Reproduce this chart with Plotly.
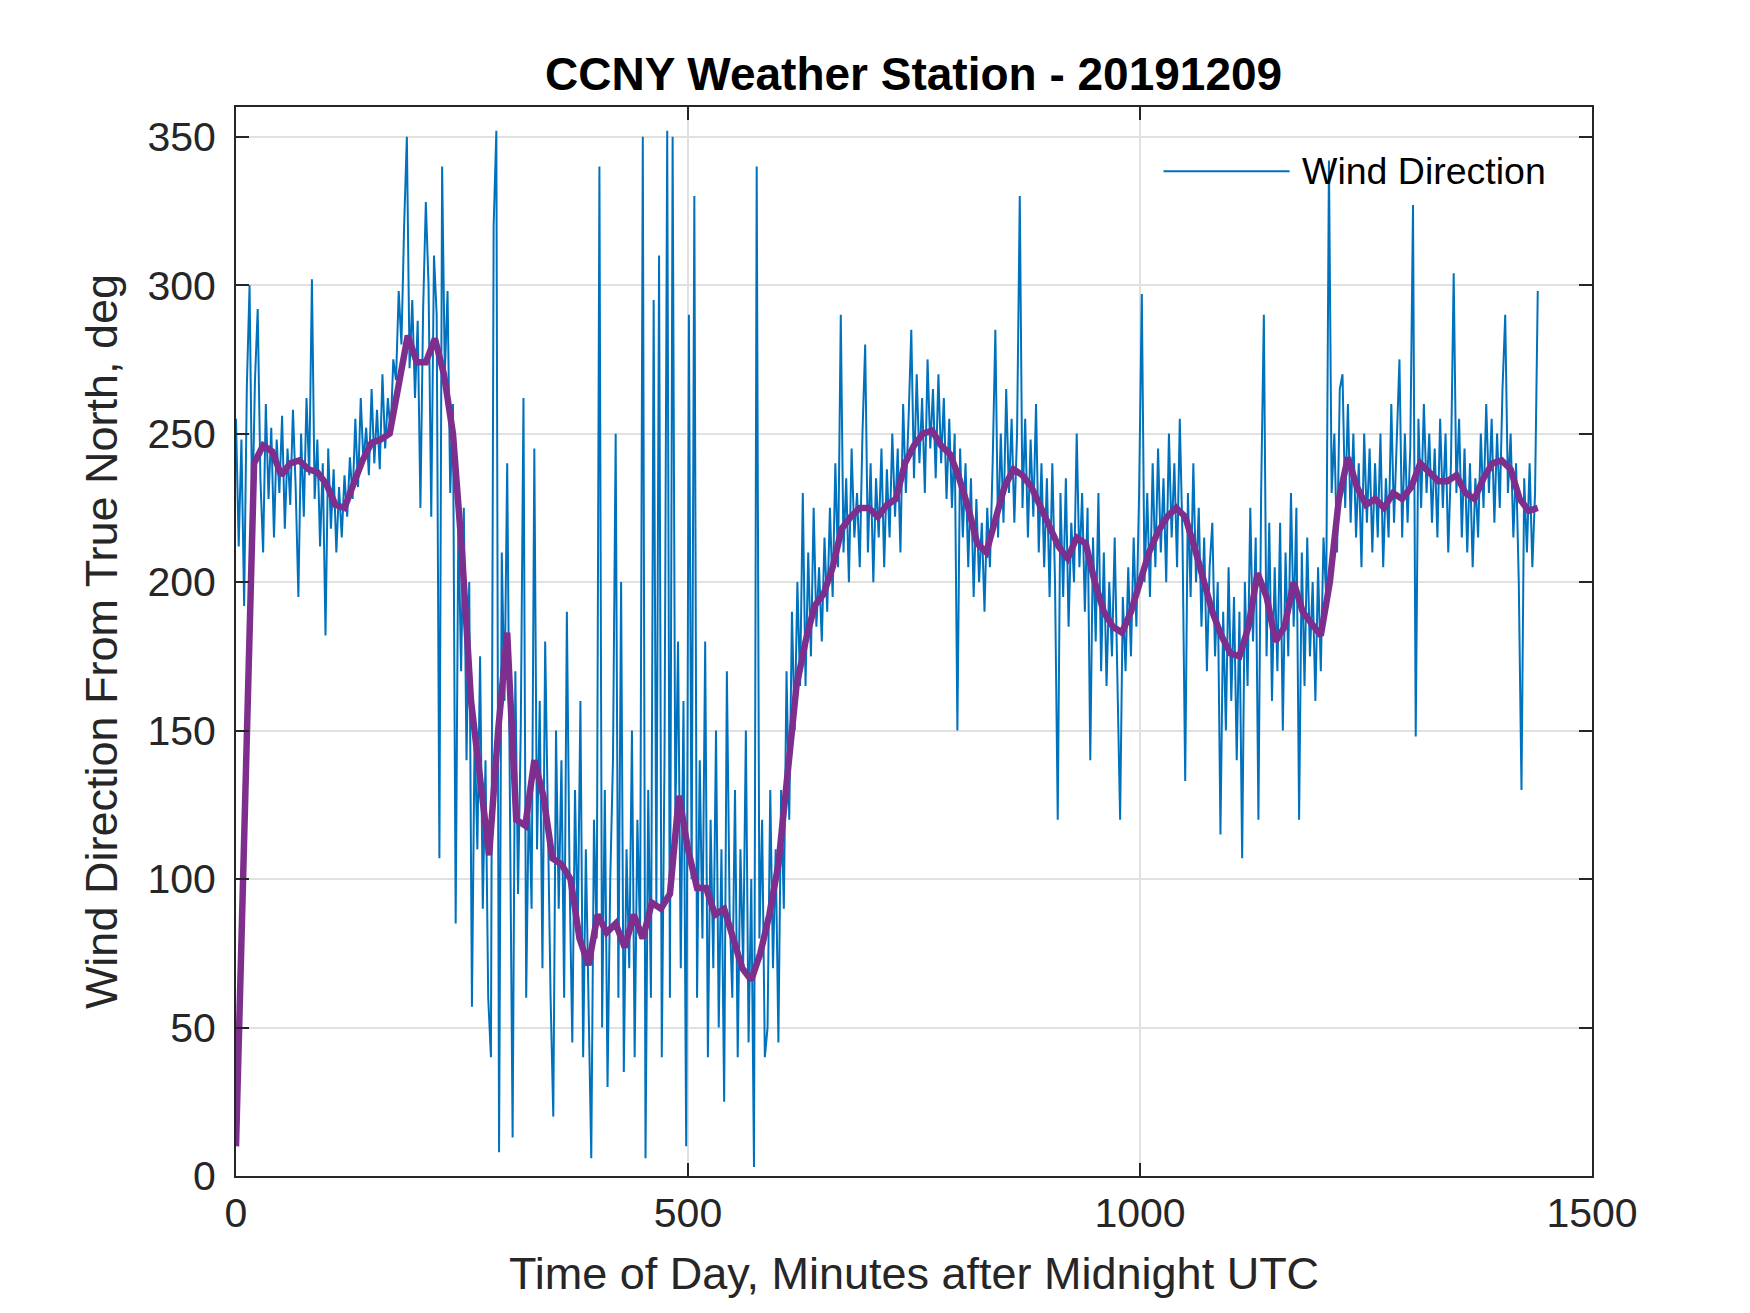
"""CCNY weather station wind direction, 2019-12-09."""

import plotly.graph_objects as go

# minutes after midnight for the raw samples (every 3 minutes)
minutes = list(range(0, 1441, 3))

wind_dir = [
    255, 212, 248, 192, 266, 300, 222, 268, 292, 235,
    210, 260, 228, 252, 215, 248, 230, 256, 218, 245,
    226, 258, 232, 195, 250, 222, 262, 236, 302, 228,
    248, 212, 240, 182, 245, 218, 238, 210, 232, 215,
    236, 222, 242, 228, 255, 232, 262, 240, 252, 236,
    265, 240, 258, 238, 270, 245, 262, 250, 275, 268,
    298, 280, 320, 350, 272, 295, 262, 288, 225, 292,
    328, 300, 222, 310, 290, 107, 340, 270, 298, 230,
    260, 85, 222, 170, 225, 140, 200, 57, 150, 110,
    175, 90, 140, 60, 40, 320, 352, 8, 210, 160,
    240, 130, 13, 170, 95, 150, 262, 60, 130, 90,
    245, 110, 160, 70, 180, 120, 60, 20, 150, 90,
    140, 60, 190, 100, 45, 130, 80, 160, 40, 110,
    60, 6, 120, 80, 340, 50, 130, 30, 100, 140,
    250, 60, 200, 35, 110, 70, 150, 40, 120, 80,
    350, 6, 130, 60, 295, 90, 310, 40, 140, 352,
    60, 350, 120, 180, 70, 160, 10, 290, 100, 330,
    60, 140, 80, 180, 40, 120, 70, 150, 50, 110,
    25, 170, 90, 60, 130, 40, 110, 70, 150, 45,
    100, 3, 340, 80, 120, 40, 50, 130, 70, 110,
    45, 130, 90, 170, 120, 190, 150, 200, 165, 230,
    165, 210, 175, 225, 185, 205, 180, 215, 190, 225,
    195, 240, 205, 290, 210, 235, 200, 245, 215, 230,
    205, 250, 280, 210, 240, 200, 235, 215, 245, 205,
    238, 215, 250, 222, 245, 210, 260, 230, 255, 285,
    235, 270, 240, 262, 230, 275, 245, 265, 235, 270,
    240, 262, 228, 255, 225, 250, 150, 245, 215, 240,
    205, 235, 195, 228, 200, 220, 190, 225, 205, 240,
    285, 215, 250, 220, 265, 230, 255, 220, 250, 330,
    225, 255, 215, 248, 222, 260, 210, 240, 205, 235,
    195, 240, 200, 120, 230, 195, 235, 185, 220, 200,
    250, 205, 230, 190, 225, 140, 215, 180, 230, 170,
    210, 165, 200, 175, 215, 160, 120, 195, 170, 205,
    175, 215, 185, 230, 297, 200, 230, 195, 240, 205,
    245, 210, 235, 200, 250, 215, 240, 205, 255, 215,
    133, 230, 195, 240, 200, 225, 185, 215, 170, 205,
    220, 175, 200, 115, 190, 150, 205, 160, 195, 140,
    190, 107, 200, 165, 225, 180, 215, 120, 230, 290,
    175, 220, 160, 205, 170, 220, 150, 210, 175, 230,
    185, 225, 120, 210, 165, 215, 175, 200, 160, 205,
    170, 215, 195, 342, 230, 250, 210, 265, 270, 225,
    260, 220, 250, 215, 240, 205, 250, 220, 245, 210,
    240, 215, 250, 205, 235, 215, 260, 220, 245, 275,
    215, 250, 220, 245, 327, 148, 255, 225, 260, 230,
    250, 220, 245, 215, 255, 225, 250, 210, 240, 304,
    230, 255, 215, 245, 210, 240, 205, 235, 215, 250,
    225, 260, 230, 255, 220, 250, 225, 265, 290, 230,
    250, 215, 240, 200, 130, 235, 210, 240, 205, 230,
    298,
]

# running mean as drawn (purple)
mean_minutes = [0, 20] + list(range(30, 1441, 10))
mean_dir = [
    10, 240,
    246, 244, 236, 240, 241, 238, 237, 233, 226, 225,
    233, 241, 247, 248, 250, 268, 283, 274, 274, 282,
    270, 250, 210, 160, 135, 108, 150, 183, 120, 118,
    140, 128, 107, 105, 100, 80, 71, 88, 82, 85,
    77, 88, 80, 92, 90, 95, 128, 110, 97, 97,
    88, 90, 80, 70, 66, 75, 88, 105, 135, 165,
    180, 192, 196, 205, 218, 222, 225, 225, 222, 226,
    228, 240, 246, 250, 251, 246, 243, 235, 225, 213,
    210, 222, 232, 238, 236, 232, 225, 218, 212, 208,
    215, 213, 200, 190, 185, 183, 190, 200, 210, 217,
    222, 225, 222, 212, 200, 190, 182, 176, 175, 185,
    203, 195, 180, 185, 200, 190, 186, 182, 200, 228,
    242, 232, 226, 228, 225, 230, 228, 232, 240, 237,
    234, 234, 236, 230, 228, 235, 240, 241, 238, 228,
    224, 225,
]

x_ticks = [0, 500, 1000, 1500]
y_ticks = [0, 50, 100, 150, 200, 250, 300, 350]

BLUE = "#0072BD"
PURPLE = "#7E2F8E"
INK = "#262626"
GRID = "#e1e1e1"
FONT = "Liberation Sans, Arial, sans-serif"

fig = go.Figure()
fig.add_trace(
    go.Scatter(
        x=minutes,
        y=wind_dir,
        mode="lines",
        name="Wind Direction",
        line=dict(color=BLUE, width=2),
        showlegend=False,
    )
)
fig.add_trace(
    go.Scatter(
        x=mean_minutes,
        y=mean_dir,
        mode="lines",
        name="Running mean",
        line=dict(color=PURPLE, width=6.5),
        showlegend=False,
    )
)

# legend drawn by hand so the sample line matches the long MATLAB one
fig.add_shape(
    type="line", xref="paper", yref="paper",
    x0=0.684, x1=0.777, y0=0.9400, y1=0.9400,
    line=dict(color=BLUE, width=2),
)
fig.add_annotation(
    text="Wind Direction", xref="paper", yref="paper",
    x=0.785, y=0.9400, xanchor="left", yanchor="middle",
    showarrow=False, font=dict(family=FONT, size=37.5, color="black"),
)

axis_common = dict(
    showline=True, linecolor=INK, linewidth=2, mirror="ticks",
    ticks="inside", ticklen=13, tickwidth=2, tickcolor=INK,
    showgrid=True, gridcolor=GRID, gridwidth=1.5, zeroline=False,
    tickfont=dict(family=FONT, size=41, color=INK),
)

fig.update_layout(
    width=1750, height=1313, autosize=False,
    paper_bgcolor="white", plot_bgcolor="white",
    margin=dict(l=227.5, r=166, t=98.5, b=144.5),
    title=dict(
        text="<b>CCNY Weather Station - 20191209</b>",
        x=0.5175, xanchor="center", y=0.950, yanchor="middle",
        font=dict(family=FONT, size=46, color="black"),
    ),
    xaxis=dict(
        range=[0, 1500], tickvals=x_ticks,
        title=dict(text="Time of Day, Minutes after Midnight UTC",
                   font=dict(family=FONT, size=45, color=INK), standoff=22),
        ticklabelstandoff=0,
        **axis_common,
    ),
    yaxis=dict(
        range=[0, 360], tickvals=y_ticks,
        title=dict(text="Wind Direction From True North, deg",
                   font=dict(family=FONT, size=45, color=INK), standoff=16),
        ticklabelstandoff=10,
        **axis_common,
    ),
    showlegend=False,
)

fig.write_html("out.html")
